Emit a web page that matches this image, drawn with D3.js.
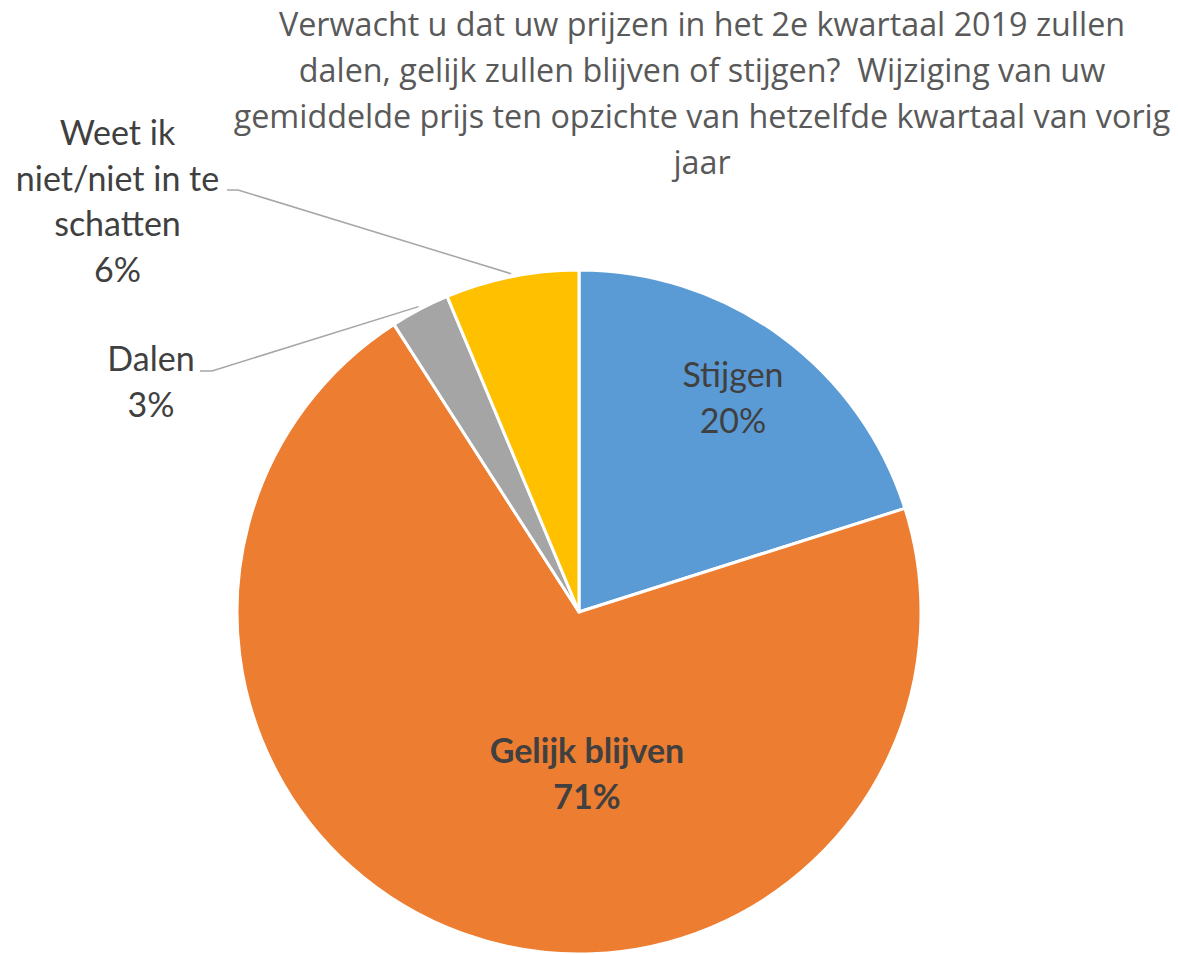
<!DOCTYPE html>
<html>
<head>
<meta charset="utf-8">
<script src="https://cdn.jsdelivr.net/npm/d3@7"></script>
<style>
  body { margin: 0; background: #fff; }
</style>
</head>
<body>
<script>
var width = 1178,
  height = 954;

// data
var categories = ["Stijgen", "Gelijk blijven", "Dalen", "Weet ik niet/niet in te schatten"];
var values = [20.1, 70.8, 2.8, 6.3];
var colors = ["#5B9BD5", "#ED7D31", "#A5A5A5", "#FFC000"];
var labelLines = [
  ["Stijgen"],
  ["Gelijk blijven"],
  ["Dalen"],
  ["Weet ik", "niet/niet in te", "schatten"]
];
var titleLines = [
  "Verwacht u dat uw prijzen in het 2e kwartaal 2019 zullen",
  "dalen, gelijk zullen blijven of stijgen?  Wijziging van uw",
  "gemiddelde prijs ten opzichte van hetzelfde kwartaal van vorig",
  "jaar"
];

var cx = 579, cy = 612, radius = 342;

// label placement (layout only)
var labelLayout = [
  { x: 733, y: 387, bold: false, leader: null },
  { x: 587, y: 763, bold: true, leader: null },
  { x: 151, y: 371, bold: false, leader: { x0: 200, x1: 212, y: 371 } },
  { x: 117.5, y: 145, bold: false, leader: { x0: 227, x1: 238, y: 190 } }
];

var svg = d3.select("body").append("svg")
            .attr("width", width)
            .attr("height", height);

// title
svg.append("text")
   .attr("text-anchor", "middle")
   .style("font-family", "'Open Sans', sans-serif")
   .style("font-size", "32.3px")
   .style("fill", "#595959")
   .style("white-space", "pre")
   .selectAll("tspan")
   .data(titleLines)
   .enter()
   .append("tspan")
   .attr("x", 702)
   .attr("y", function(d, i) { return 36 + i * 46; })
   .text(function(d) { return d; });

var pie = d3.pie()
            .sort(null)
            .value(function(d) { return d; });

var arcs = pie(values);
var total = d3.sum(values);

var arc = d3.arc()
            .innerRadius(0)
            .outerRadius(radius);

var g = svg.append("g")
           .attr("transform", "translate(" + cx + "," + cy + ")");

g.selectAll("path")
 .data(arcs)
 .enter()
 .append("path")
 .attr("d", arc)
 .style("fill", function(d, i) { return colors[i]; })
 .style("stroke", "#fff")
 .style("stroke-width", 3)
 .style("stroke-linejoin", "round");

// leader lines to outside labels
arcs.forEach(function(d, i) {
  var lay = labelLayout[i];
  if (!lay.leader) return;
  var mid = (d.startAngle + d.endAngle) / 2;
  var px = cx + (radius + 3) * Math.sin(mid),
      py = cy - (radius + 3) * Math.cos(mid);
  svg.append("polyline")
     .attr("points", [[lay.leader.x0, lay.leader.y], [lay.leader.x1, lay.leader.y], [px, py]].join(" "))
     .style("fill", "none")
     .style("stroke", "#A6A6A6")
     .style("stroke-width", 1.5);
});

// labels
arcs.forEach(function(d, i) {
  var lay = labelLayout[i];
  var lines = labelLines[i].concat([Math.round(values[i] / total * 100) + "%"]);
  svg.append("text")
     .attr("text-anchor", "middle")
     .style("font-family", "Lato, 'Open Sans', sans-serif")
     .style("font-size", "34px")
     .style("font-weight", lay.bold ? "bold" : "normal")
     .style("fill", "#404040")
     .selectAll("tspan")
     .data(lines)
     .enter()
     .append("tspan")
     .attr("x", lay.x)
     .attr("y", function(l, j) { return lay.y + j * 45.5; })
     .text(function(l) { return l; });
});
</script>
</body>
</html>
